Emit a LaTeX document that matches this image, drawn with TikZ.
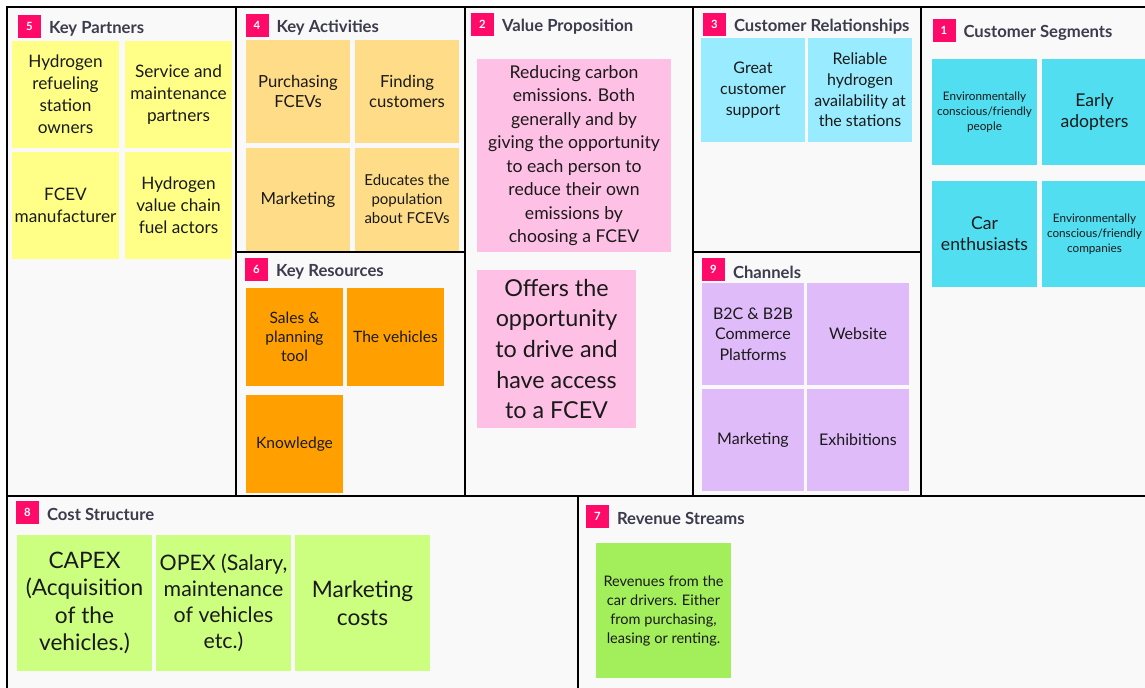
\documentclass[tikz,border=0pt]{standalone}
\usepackage{fontspec}
\setmainfont{Lato}
\usetikzlibrary{positioning}

\definecolor{cellgray}{HTML}{F9F9F9}
\definecolor{badgered}{HTML}{FF0A68}
\definecolor{headgray}{HTML}{3C3C4C}
\definecolor{notetext}{HTML}{1A1A1A}
\definecolor{kpyellow}{HTML}{FFFF88}
\definecolor{kaorange}{HTML}{FFDC88}
\definecolor{vppink}{HTML}{FFC0E5}
\definecolor{crblue}{HTML}{99EBFF}
\definecolor{cscyan}{HTML}{50DEF0}
\definecolor{krorange}{HTML}{FFA000}
\definecolor{chlilac}{HTML}{E0BBFA}
\definecolor{colime}{HTML}{CCFF80}
\definecolor{rsgreen}{HTML}{A3EE5B}

\begin{document}
\begin{tikzpicture}[x=0.75pt,y=-0.75pt]
\tikzset{
  cell/.style={draw=black,line width=1.8pt,fill=cellgray},
  badge/.style={rectangle,fill=badgered,text=white,font=\bfseries\fontsize{8.5}{10}\selectfont,minimum size=17.25pt,inner sep=0pt,outer sep=0pt},
  heading/.style={text=headgray,font=\bfseries\fontsize{12.5}{15}\selectfont,inner sep=0pt,outer sep=0pt,yshift=-2pt},
  note/.style={rectangle,inner sep=0pt,outer sep=0pt,align=center,text=notetext},
  kpnote/.style={note,fill=kpyellow,minimum width=80.25pt,minimum height=80.25pt,font=\fontsize{12.9}{16.5}\selectfont},
  kanote/.style={note,fill=kaorange,minimum width=78pt,minimum height=77.25pt,font=\fontsize{12.5}{15.4}\selectfont},
  vpnote/.style={note,fill=vppink,font=\fontsize{13.2}{17.6}\selectfont},
  crnote/.style={note,fill=crblue,minimum size=78pt,font=\fontsize{12}{15.5}\selectfont},
  csnote/.style={note,fill=cscyan,minimum width=78.75pt,minimum height=79.5pt,font=\fontsize{13.2}{15.75}\selectfont},
  krnote/.style={note,fill=krorange,minimum width=72.75pt,minimum height=73.5pt,font=\fontsize{11.7}{14.25}\selectfont},
  chnote/.style={note,fill=chlilac,minimum size=76.5pt,font=\fontsize{12}{15.4}\selectfont},
  conote/.style={note,fill=colime,minimum width=101.25pt,minimum height=102pt,font=\fontsize{17}{20.6}\selectfont},
  rsnote/.style={note,fill=rsgreen,minimum size=101.25pt,font=\fontsize{10.9}{14.25}\selectfont},
  smalltext/.style={font=\fontsize{8.8}{11.25}\selectfont}
}
\fill[white] (0,0) rectangle (1145,687);
\useasboundingbox (0,0) rectangle (1145,687);
\clip (0,0) rectangle (1145,687);

% canvas cells
\draw[cell] (7,7) rectangle (236,496);
\draw[cell] (236,7) rectangle (465,252);
\draw[cell] (236,252) rectangle (465,496);
\draw[cell] (465,7) rectangle (693,496);
\draw[cell] (693,7) rectangle (921,252);
\draw[cell] (693,252) rectangle (921,496);
\draw[cell] (921,7) rectangle (1160,496);
\draw[cell] (7,496) rectangle (578,700);
\draw[cell] (578,496) rectangle (1160,700);

% key partners
\node[badge] (kpb) at (29.5,26.5) {5};
\node[heading,right=6pt of kpb] (kpt) {Key Partners};
\node[kpnote,anchor=north west] (kp1) at (12,41) {Hydrogen\\refueling\\station\\owners};
\node[kpnote,right=4.5pt of kp1] (kp2) {Service and\\maintenance\\partners};
\node[kpnote,below=3pt of kp1] (kp3) {FCEV\\manufacturer};
\node[kpnote,below=3pt of kp2] (kp4) {Hydrogen\\value chain\\fuel actors};

% key activities
\node[badge] (kab) at (257,25) {4};
\node[heading,right=6pt of kab] (kat) {Key Activities};
\node[kanote,anchor=north west] (ka1) at (246,40) {Purchasing\\FCEVs};
\node[kanote,right=3.75pt of ka1] (ka2) {Finding\\customers};
\node[kanote,below=3.75pt of ka1] (ka3) {Marketing};
\node[kanote,below=3.75pt of ka2,font=\fontsize{11.3}{14.25}\selectfont] (ka4) {Educates the\\population\\about FCEVs};

% key resources
\node[badge] (krb) at (256.5,269.5) {6};
\node[heading,right=6pt of krb] (krt) {Key Resources};
\node[krnote,anchor=north west] (kr1) at (246,288) {Sales \&\\planning\\tool};
\node[krnote,right=3pt of kr1] (kr2) {The vehicles};
\node[krnote,below=6.75pt of kr1] (kr3) {Knowledge};

% value proposition
\node[badge] (vpb) at (482.5,24.5) {2};
\node[heading,right=6pt of vpb] (vpt) {Value Proposition};
\node[vpnote,minimum width=145.5pt,minimum height=144.75pt,anchor=north west] (vp1) at (477,59)
  {Reducing carbon\\emissions. Both\\generally and by\\giving the opportunity\\to each person to\\reduce their own\\emissions by\\choosing a FCEV};
\node[vpnote,minimum width=119.25pt,minimum height=118.5pt,font=\fontsize{17.5}{22.9}\selectfont,
  below=13.5pt of vp1.south west,anchor=north west] (vp2) {Offers the\\opportunity\\to drive and\\have access\\to a FCEV};

% customer relationships
\node[badge] (crb) at (714.5,24.5) {3};
\node[heading,right=6pt of crb] (crt) {Customer Relationships};
\node[crnote,anchor=north west] (cr1) at (701,38) {Great\\customer\\support};
\node[crnote,right=2.25pt of cr1] (cr2) {Reliable\\hydrogen\\availability at\\the stations};

% channels
\node[badge] (chb) at (713.5,269.5) {9};
\node[heading,right=6pt of chb] (cht) {Channels};
\node[chnote,anchor=north west] (ch1) at (702,283) {B2C \& B2B\\Commerce\\Platforms};
\node[chnote,right=2.25pt of ch1] (ch2) {Website};
\node[chnote,below=3pt of ch1] (ch3) {Marketing};
\node[chnote,below=3pt of ch2] (ch4) {Exhibitions};

% customer segments
\node[badge] (csb) at (944,30) {1};
\node[heading,right=6pt of csb] (cst) {Customer Segments};
\node[csnote,smalltext,anchor=north west] (cs1) at (932,59) {Environmentally\\conscious/friendly\\people};
\node[csnote,right=3.75pt of cs1] (cs2) {Early\\adopters};
\node[csnote,below=12pt of cs1] (cs3) {Car\\enthusiasts};
\node[csnote,smalltext,below=12pt of cs2] (cs4) {Environmentally\\conscious/friendly\\companies};

% cost structure
\node[badge] (cob) at (27.5,512) {8};
\node[heading,right=6pt of cob] (cot) {Cost Structure};
\node[conote,anchor=north west] (co1) at (17,535) {CAPEX\\(Acquisition\\of the\\vehicles.)};
\node[conote,right=3pt of co1,font=\fontsize{16}{19.5}\selectfont] (co2) {OPEX (Salary,\\maintenance\\of vehicles\\etc.)};
\node[conote,right=3pt of co2] (co3) {Marketing\\costs};

% revenue streams
\node[badge] (rsb) at (597.5,516) {7};
\node[heading,right=6pt of rsb] (rst) {Revenue Streams};
\node[rsnote,anchor=north west] (rs1) at (596,543) {Revenues from the\\car drivers. Either\\from purchasing,\\leasing or renting.};
\end{tikzpicture}
\end{document}
